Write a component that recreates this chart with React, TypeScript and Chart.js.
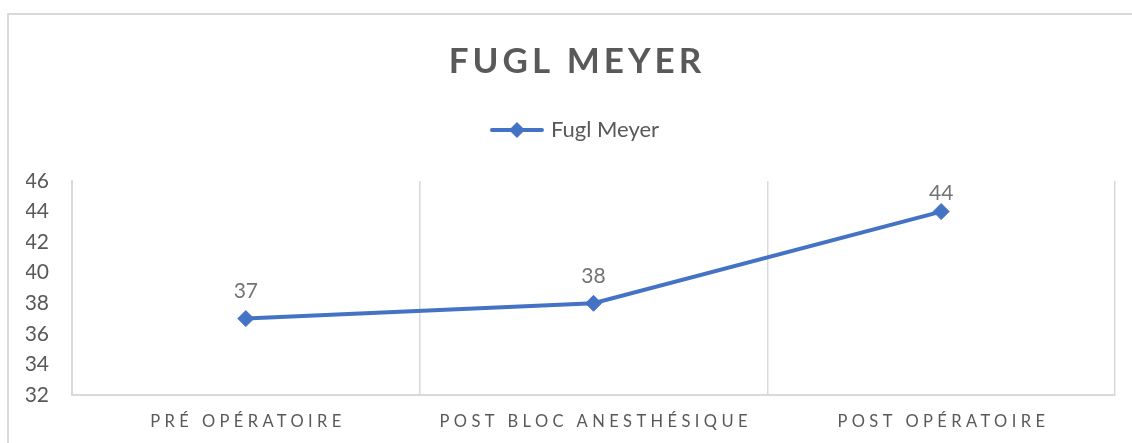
import React, { useEffect, useRef } from 'react';
import { Chart, registerables } from 'chart.js';

Chart.register(...registerables);

const titleText = 'FUGL MEYER';
const seriesName = 'Fugl Meyer';
const categories = ['PRÉ OPÉRATOIRE', 'POST BLOC ANESTHÉSIQUE', 'POST OPÉRATOIRE'];
const values = [37, 38, 44];
const yMin = 32;
const yMax = 46;
const yStep = 2;

const FONT = 'Lato';
const TEXT = '#595959';
const LABEL = '#737373';
const GRID = '#d9d9d9';
const BLUE = '#4472C4';

function makeLegendIcon(): HTMLCanvasElement {
  const c = document.createElement('canvas');
  c.width = 56;
  c.height = 20;
  const g = c.getContext('2d')!;
  g.strokeStyle = BLUE;
  g.lineWidth = 4;
  g.lineCap = 'round';
  g.beginPath();
  g.moveTo(3, 10);
  g.lineTo(53, 10);
  g.stroke();
  g.fillStyle = BLUE;
  g.beginPath();
  g.moveTo(28, 2);
  g.lineTo(36, 10);
  g.lineTo(28, 18);
  g.lineTo(20, 10);
  g.closePath();
  g.fill();
  return c;
}

function patchDraw(obj: any, ctx: CanvasRenderingContext2D, method: string, spacing: string, dx: number) {
  if (!obj || obj['__patched_' + method]) return;
  const orig = obj[method].bind(obj);
  obj[method] = (...args: any[]) => {
    ctx.save();
    (ctx as any).letterSpacing = spacing;
    ctx.translate(dx, 0);
    orig(...args);
    ctx.restore();
  };
  obj['__patched_' + method] = true;
}

const spacingPlugin = {
  id: 'letterSpacingPatch',
  beforeDraw(chart: any) {
    const ctx = chart.ctx;
    patchDraw(chart.scales.x, ctx, 'drawLabels', '4.4px', 2.2);
    patchDraw(chart.titleBlock, ctx, 'draw', '4px', 6.5);
    patchDraw(chart.legend, ctx, 'draw', '0px', 6);
  },
};

const dataLabelPlugin = {
  id: 'dataLabels',
  afterDatasetsDraw(chart: any) {
    const ctx = chart.ctx;
    const meta = chart.getDatasetMeta(0);
    ctx.save();
    (ctx as any).letterSpacing = '0px';
    ctx.font = `21px ${FONT}`;
    ctx.fillStyle = LABEL;
    ctx.textAlign = 'center';
    ctx.textBaseline = 'middle';
    meta.data.forEach((pt: any, i: number) => {
      const y = Math.max(pt.y - 27, chart.chartArea.top + 12);
      ctx.fillText(String(values[i]), pt.x, y);
    });
    ctx.restore();
  },
};

export default function App() {
  const ref = useRef<HTMLCanvasElement | null>(null);

  useEffect(() => {
    if (!ref.current) return;
    const icon = makeLegendIcon();
    const chart = new Chart(ref.current, {
      type: 'line',
      data: {
        labels: categories,
        datasets: [
          {
            label: seriesName,
            data: values,
            borderColor: BLUE,
            backgroundColor: BLUE,
            borderWidth: 4,
            pointStyle: 'rectRot',
            pointRadius: 8,
            pointBorderWidth: 1,
            pointBackgroundColor: BLUE,
            pointBorderColor: BLUE,
            tension: 0,
          },
        ],
      },
      options: {
        responsive: false,
        animation: false,
        layout: { padding: { left: 26, right: 17, top: 44, bottom: 10 } },
        plugins: {
          tooltip: { enabled: false },
          title: {
            display: true,
            text: titleText,
            color: TEXT,
            font: { family: FONT, size: 35, weight: 'bold', lineHeight: 1 },
            padding: { top: 0, bottom: 0 },
          },
          subtitle: {
            display: true,
            text: '',
            weight: 500,
            font: { family: FONT, size: 1, lineHeight: 1 },
            padding: { top: 0, bottom: 29 },
          } as any,
          legend: {
            display: true,
            position: 'top',
            labels: {
              usePointStyle: true,
              pointStyleWidth: 46,
              padding: 40,
              color: TEXT,
              font: { family: FONT, size: 22 },
              generateLabels: () => [
                {
                  text: seriesName,
                  pointStyle: icon as any,
                  fillStyle: BLUE,
                  strokeStyle: BLUE,
                  lineWidth: 0,
                  hidden: false,
                  datasetIndex: 0,
                  fontColor: TEXT,
                } as any,
              ],
            },
          },
        },
        scales: {
          x: {
            offset: true,
            grid: {
              display: true,
              offset: true,
              color: GRID,
              lineWidth: 1.5,
              drawTicks: false,
            },
            border: { display: true, color: GRID, width: 2 },
            ticks: {
              color: TEXT,
              font: { family: FONT, size: 16.5 },
              padding: 17,
              maxRotation: 0,
              autoSkip: false,
            },
            afterFit: (scale: any) => {
              scale.height = 38;
            },
          },
          y: {
            min: yMin,
            max: yMax,
            grid: { display: false, drawTicks: false },
            border: { display: true, color: GRID, width: 2 },
            ticks: {
              stepSize: yStep,
              color: TEXT,
              font: { family: FONT, size: 21 },
              padding: 23,
            },
            afterFit: (scale: any) => {
              scale.width = 46;
            },
          },
        },
      },
      plugins: [spacingPlugin, dataLabelPlugin],
    });
    return () => chart.destroy();
  }, []);

  return (
    <div
      style={{
        position: 'absolute',
        left: 0,
        top: 0,
        width: 1132,
        height: 443,
        overflow: 'hidden',
        background: '#ffffff',
      }}
    >
      <div
        style={{
          position: 'absolute',
          left: 7,
          top: 13,
          width: 2000,
          height: 2000,
          borderTop: '2px solid #d9d9d9',
          borderLeft: '2px solid #d9d9d9',
        }}
      />
      <canvas
        ref={ref}
        width={1132}
        height={443}
        style={{ position: 'absolute', left: 0, top: 0, width: 1132, height: 443 }}
      />
    </div>
  );
}
